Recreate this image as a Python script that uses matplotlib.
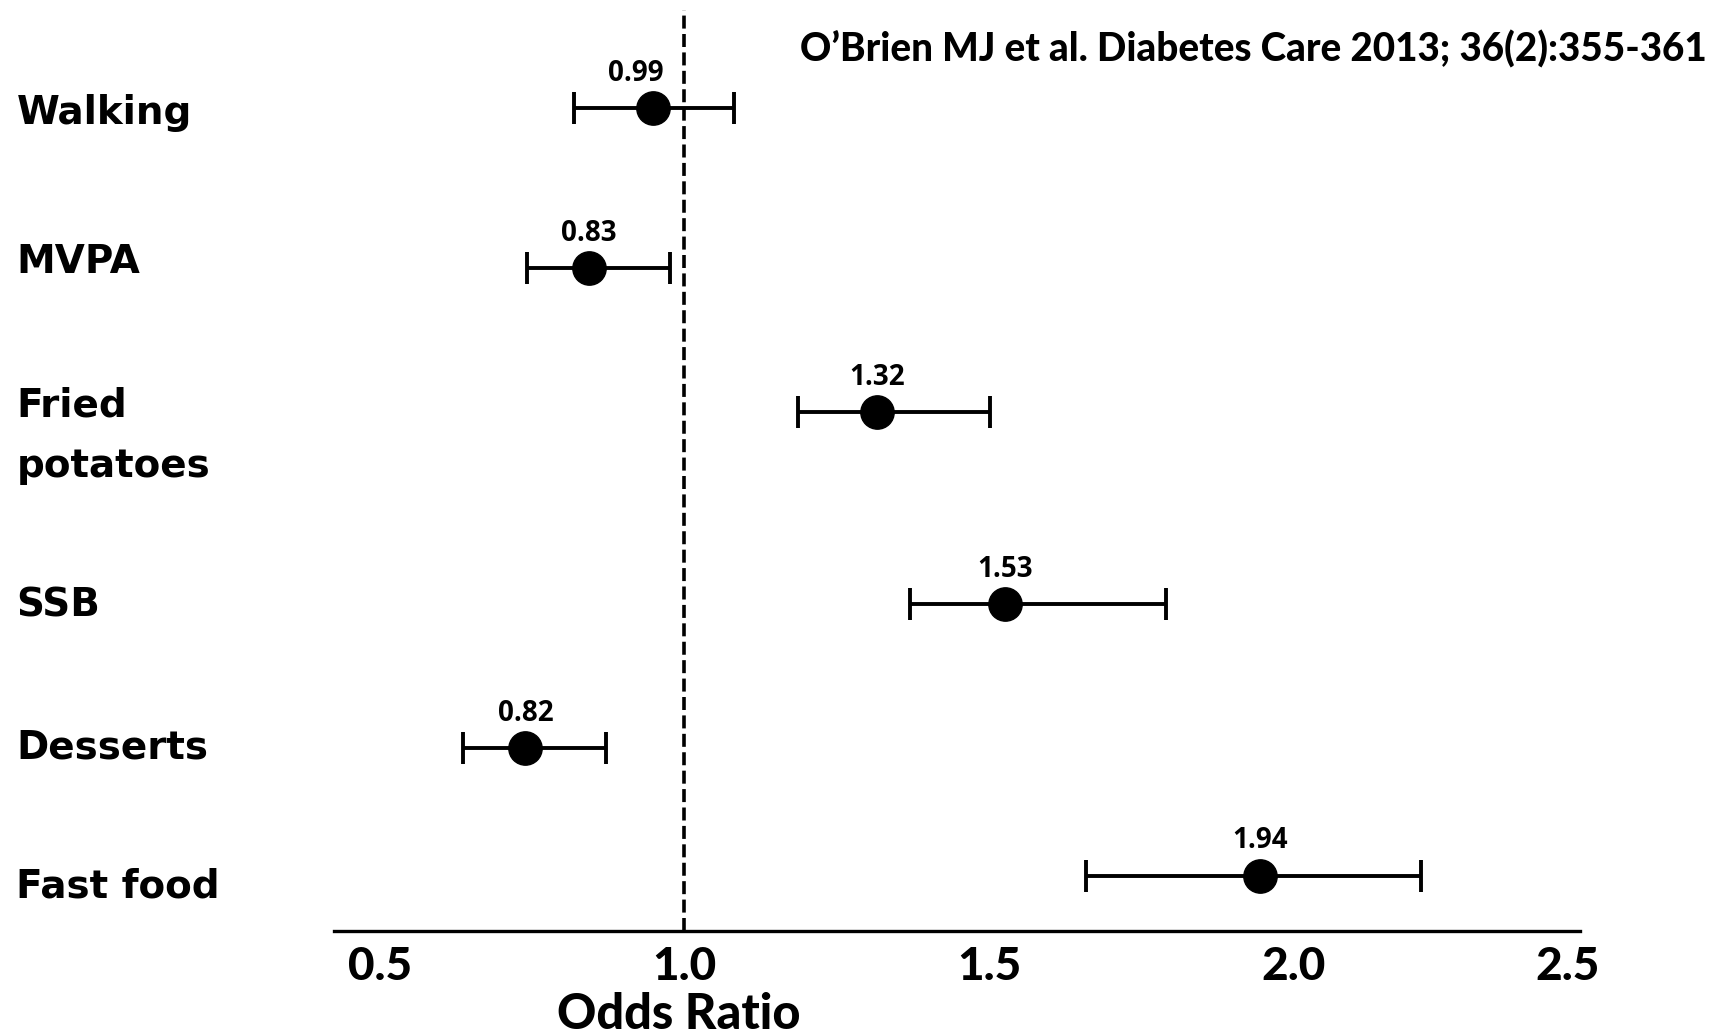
import matplotlib
matplotlib.use("Agg")
import matplotlib.pyplot as plt
import matplotlib.transforms as mtransforms

# data
factors = ["Walking", "MVPA", "Fried\npotatoes", "SSB", "Desserts", "Fast food"]
or_labels = ["0.99", "0.83", "1.32", "1.53", "0.82", "1.94"]
or_points = [0.948, 0.843, 1.316, 1.526, 0.739, 1.945]
ci_low = [0.819, 0.741, 1.186, 1.371, 0.636, 1.659]
ci_high = [1.081, 0.977, 1.501, 1.790, 0.871, 2.210]
# the last label sits at the right end of the axis in the original
x_tick_pos = [0.5, 1.0, 1.5, 2.0, 2.45]
x_tick_labels = ["0.5", "1.0", "1.5", "2.0", "2.5"]
citation = "O\u2019Brien MJ et al. Diabetes Care 2013; 36(2):355-361"

# layout: row centres (rows are not evenly spaced in the original)
row_y = [0.0, 1.0, 1.9, 3.1, 4.0, 4.8]
label_y = [0.03, 0.96, 2.05, 3.11, 4.0, 4.87]
label_dx = [-12, 0, 0, 0, 0, 0]  # points, nudges the value text

narrow = ["Lato", "DejaVu Sans"]

fig = plt.figure(figsize=(17.31, 10.34), dpi=100)
ax = fig.add_axes([0.193, 0.0996, 0.7197, 0.8904])

err_lo = [p - l for p, l in zip(or_points, ci_low)]
err_hi = [h - p for p, h in zip(or_points, ci_high)]
ax.errorbar(or_points, row_y, xerr=[err_lo, err_hi], fmt="o", color="black",
            markersize=24, elinewidth=2.8, capsize=11.5, capthick=2.8, zorder=3)

ax.axvline(1.0, color="black", linewidth=2.6, linestyle=(0, (3.6, 1.5)), zorder=2)

for x, y, txt, dx in zip(or_points, row_y, or_labels, label_dx):
    ax.annotate(txt, (x, y), xytext=(dx, 25), textcoords="offset points",
                ha="center", va="center", fontsize=20, fontweight="bold",
                family=["Open Sans", "DejaVu Sans"])

trans = mtransforms.blended_transform_factory(fig.transFigure, ax.transData)
for name, y in zip(factors, label_y):
    ax.text(0.0095, y, name, transform=trans, ha="left", va="center",
            fontsize=28, fontweight="bold", family="DejaVu Sans",
            linespacing=1.75)

ax.set_xlim(0.425, 2.47)
ax.set_ylim(5.146, -0.611)
ax.set_xticks(x_tick_pos, x_tick_labels)
ax.set_yticks([])
ax.tick_params(axis="x", length=0, pad=11)
for lab in ax.get_xticklabels():
    lab.set_family(narrow)
    lab.set_fontsize(33)
    lab.set_fontweight("black")

for side in ["left", "right", "top"]:
    ax.spines[side].set_visible(False)
ax.spines["bottom"].set_linewidth(2.4)

ax.set_xlabel("Odds Ratio", family=narrow, fontsize=35, fontweight="black")
ax.xaxis.set_label_coords(0.277, -0.066)

fig.text(0.986, 0.952, citation, ha="right", va="center",
         family=narrow, fontsize=27.8, fontweight="black")

fig.savefig("out.png", dpi=100)
